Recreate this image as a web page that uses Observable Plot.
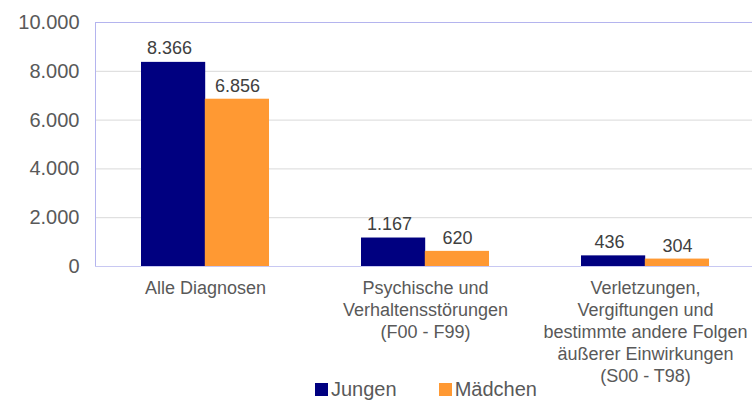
<!DOCTYPE html>
<html>
<head>
<meta charset="utf-8">
<script src="https://cdn.jsdelivr.net/npm/d3@7"></script>
<script src="https://cdn.jsdelivr.net/npm/@observablehq/plot@0.6"></script>
<style>
  html, body { margin: 0; padding: 0; background: #fff; }
  #wrap { position: relative; width: 752px; height: 403px; overflow: hidden; font-family: "Liberation Sans", Arial, sans-serif; }
  #legend { position: absolute; left: 315px; top: 378px; display: flex; align-items: center; font-size: 20px; color: #595959; line-height: 23px; }
  #legend .item { display: flex; align-items: center; margin-right: 42px; }
  #legend .sw { width: 13px; height: 13px; margin-right: 3px; display: inline-block; }
</style>
</head>
<body>
<div id="wrap"></div>
<script>
const categories = [
  "Alle Diagnosen",
  "Psychische und\nVerhaltensstörungen\n(F00 - F99)",
  "Verletzungen,\nVergiftungen und\nbestimmte andere Folgen\näußerer Einwirkungen\n(S00 - T98)"
];
const seriesNames = ["Jungen", "Mädchen"];
const jungen = [8366, 1167, 436];
const maedchen = [6856, 620, 304];
const yTicks = [0, 2000, 4000, 6000, 8000, 10000];
const colors = ["#000080", "#FF9933"];

const locale = d3.formatLocale({decimal: ",", thousands: ".", grouping: [3], currency: ["", "€"]});
const fmt = locale.format(",d");

const dataJ = categories.map((c, i) => ({cat: c, value: jungen[i]}));
const dataM = categories.map((c, i) => ({cat: c, value: maedchen[i]}));

const chart = Plot.plot({
  width: 752,
  height: 403,
  marginLeft: 95,
  marginRight: -3,
  marginTop: 22,
  marginBottom: 137,
  style: {fontFamily: "Liberation Sans, Arial, sans-serif", color: "#595959", background: "#fff", overflow: "visible"},
  x: {domain: categories, paddingInner: 0.42, paddingOuter: 0.21, axis: null},
  y: {domain: [0, 10000], axis: null},
  marks: [
    Plot.gridY(yTicks.slice(1, -1), {stroke: "#d9d9d9", strokeOpacity: 1}),
    Plot.barY(dataJ, {x: "cat", y: "value", fill: colors[0], insetRight: 63.8}),
    Plot.barY(dataM, {x: "cat", y: "value", fill: colors[1], insetLeft: 63.8}),
    Plot.frame({stroke: "#b4b4ee"}),
    Plot.ruleY([0], {stroke: "#c8c8f2"}),
    Plot.text(dataJ, {x: "cat", y: "value", text: d => fmt(d.value), dx: -36, dy: -8, lineAnchor: "bottom", fontSize: 18, fill: "#404040"}),
    Plot.text(dataM, {x: "cat", y: "value", text: d => fmt(d.value), dx: 32, dy: -7, lineAnchor: "bottom", fontSize: 18, fill: "#404040"}),
    Plot.axisY(yTicks, {tickFormat: fmt, tickSize: 0, tickPadding: 16, fontSize: 20, fill: "#595959", label: null}),
    Plot.axisX({tickSize: 0, tickPadding: 12, fontSize: 18, lineHeight: 1.22, fill: "#595959", label: null})
  ]
});
const wrap = document.getElementById("wrap");
wrap.appendChild(chart);

const legend = document.createElement("div");
legend.id = "legend";
seriesNames.forEach((n, i) => {
  const item = document.createElement("div");
  item.className = "item";
  const sw = document.createElement("span");
  sw.className = "sw";
  sw.style.background = colors[i];
  const t = document.createElement("span");
  t.textContent = n;
  item.appendChild(sw);
  item.appendChild(t);
  legend.appendChild(item);
});
wrap.appendChild(legend);
</script>
</body>
</html>
